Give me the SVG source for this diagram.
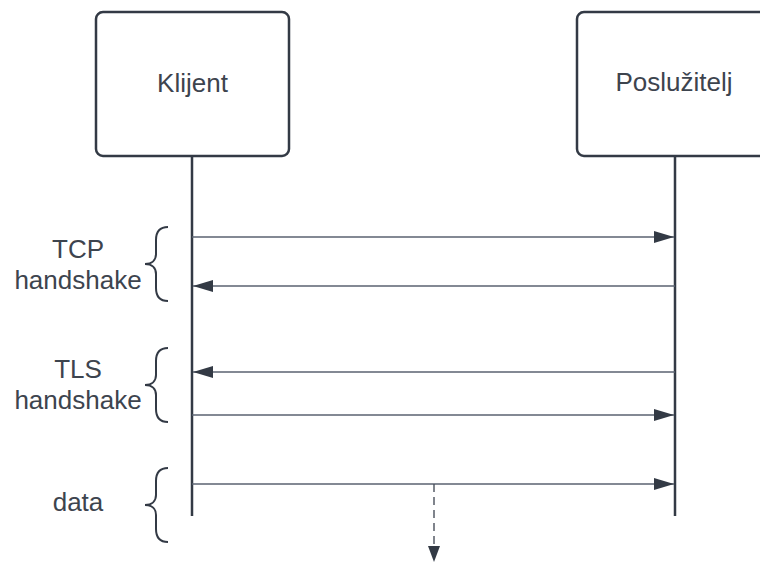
<svg xmlns="http://www.w3.org/2000/svg" width="760" height="563" viewBox="0 0 760 563">
<defs>
<style>
.box{fill:#ffffff;stroke:#333a45;stroke-width:2.5}
.life{stroke:#333a45;stroke-width:2.5;fill:none}
.msg{stroke:#5a6270;stroke-width:1.4;fill:none}
.dash{stroke:#4a515c;stroke-width:1.4;fill:none;stroke-dasharray:8 5}
.brace{stroke:#333a45;stroke-width:2;fill:none}
text{font-family:"Liberation Sans",Arial,sans-serif;font-size:26px;fill:#3d444e;text-anchor:middle}
</style>
<marker id="ah" viewBox="0 0 20 12" refX="20" refY="6" markerWidth="20" markerHeight="12" markerUnits="userSpaceOnUse" orient="auto">
<path d="M0,0 L20,6 L0,12 Z" fill="#333a45"/>
</marker>
</defs>
<rect width="760" height="563" fill="#ffffff"/>
<g id="klijent">
<rect class="box" x="96" y="12" width="193" height="144" rx="7"/>
<text x="192.5" y="92">Klijent</text>
</g>
<g id="posluzitelj">
<rect class="box" x="577" y="12" width="196" height="144" rx="7"/>
<text x="674" y="91">Poslužitelj</text>
</g>
<g id="labels">
<text x="78" y="258">TCP</text>
<text x="78" y="289">handshake</text>
<path class="brace" d="M168,227 C160,227 156,232 156,240 L156,254 C156,260 152,264 145,264 C152,264 156,268 156,274 L156,288 C156,296 160,301 168,301"/>
<text x="78" y="378">TLS</text>
<text x="78" y="409">handshake</text>
<path class="brace" d="M168,348 C160,348 156,353 156,361 L156,375 C156,381 152,385 145,385 C152,385 156,389 156,395 L156,409 C156,417 160,422 168,422"/>
<text x="78" y="511">data</text>
<path class="brace" d="M168,468 C160,468 156,473 156,481 L156,495 C156,501 152,505 145,505 C152,505 156,509 156,515 L156,529 C156,537 160,542 168,542"/>
</g>
<g id="connectors">
<line class="life" x1="192" y1="156" x2="192" y2="516"/>
<line class="life" x1="675" y1="156" x2="675" y2="516"/>
<line class="msg" x1="192" y1="237" x2="674" y2="237" marker-end="url(#ah)"/>
<line class="msg" x1="675" y1="286" x2="193" y2="286" marker-end="url(#ah)"/>
<line class="msg" x1="675" y1="372" x2="193" y2="372" marker-end="url(#ah)"/>
<line class="msg" x1="192" y1="415" x2="674" y2="415" marker-end="url(#ah)"/>
<line class="msg" x1="192" y1="484" x2="674" y2="484" marker-end="url(#ah)"/>
<line class="dash" x1="434" y1="484" x2="434" y2="547"/>
<path d="M428,546 L440,546 L434,562 Z" fill="#333a45"/>
</g>
</svg>
